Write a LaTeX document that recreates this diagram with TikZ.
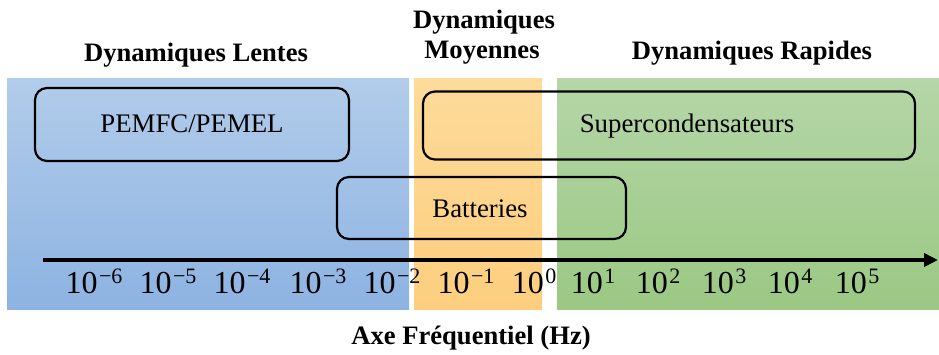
\documentclass[tikz,border=0pt]{standalone}
\usepackage{fontspec}
\setmainfont{Liberation Serif}
\usetikzlibrary{arrows.meta}
\definecolor{blueT}{HTML}{B2CCEA}
\definecolor{blueB}{HTML}{8DB3E2}
\definecolor{oraT}{HTML}{FDDB9A}
\definecolor{oraB}{HTML}{FDCE7E}
\definecolor{greT}{HTML}{B5D6A8}
\definecolor{greB}{HTML}{9BC883}
\newcommand{\pw}[1]{10\kern1.5pt\raisebox{10pt}{\fontsize{22}{22}\selectfont #1}}
\tikzset{
  band/.style={draw=none, shading=axis, shading angle=0},
  techbox/.style={draw=black, line width=2.2pt, rounded corners=12pt},
  techlabel/.style={font=\fontsize{26.8}{30}\selectfont, inner sep=0pt},
  title/.style={font=\fontsize{26.6}{30}\selectfont\bfseries, inner sep=0pt, align=center},
  tick/.style={font=\fontsize{32}{34}\selectfont, inner sep=0pt, anchor=base},
}
\begin{document}
\begin{tikzpicture}[x=1pt,y=-1pt]
\useasboundingbox (0,0) rectangle (939,354);
% bands
\path[band, top color=blueT, bottom color=blueB] (7,78) rectangle (409,309);
\path[band, top color=oraT, bottom color=oraB] (414,78) rectangle (542,309);
\path[band, top color=greT, bottom color=greB] (557,78) rectangle (939,309);
% titles
\node[title] (tl) at (196,55) {Dynamiques Lentes};
\node[title] (tm1) at (484,22) {Dynamiques};
\node[title] (tm2) at (482,53) {Moyennes};
\node[title] (tr) at (752,53) {Dynamiques Rapides};
% boxes
\node[techbox, minimum width=314pt, minimum height=73pt] (pem) at (192,124.5) {};
\node[techlabel] (pemt) at (192,124) {PEMFC/PEMEL};
\node[techbox, minimum width=492pt, minimum height=68pt] (sup) at (669,125.5) {};
\node[techlabel] (supt) at (687,126) {Supercondensateurs};
\node[techbox, minimum width=289pt, minimum height=62pt] (bat) at (481.5,208) {};
\node[techlabel] (batt) at (480,209) {Batteries};
% axis
\coordinate (a0) at (43,260);
\coordinate (a1) at (938,260);
\draw[line width=3.5pt, -{Triangle[length=14pt,width=13pt]}] (a0) -- (a1);
% ticks
\node[tick] (t6) at (94,293) {\pw{−6}};
\node[tick] (t5) at (168,293) {\pw{−5}};
\node[tick] (t4) at (242,293) {\pw{−4}};
\node[tick] (t3) at (318,293) {\pw{−3}};
\node[tick] (t2) at (392,293) {\pw{−2}};
\node[tick] (t1) at (466,293) {\pw{−1}};
\node[tick] (p0) at (534,293) {\pw{0}};
\node[tick] (p1) at (593,293) {\pw{1}};
\node[tick] (p2) at (658,293) {\pw{2}};
\node[tick] (p3) at (724,293) {\pw{3}};
\node[tick] (p4) at (790,293) {\pw{4}};
\node[tick] (p5) at (857,293) {\pw{5}};
% axis label
\node[title] (ax) at (471,338) {Axe Fréquentiel (Hz)};
\end{tikzpicture}
\end{document}
